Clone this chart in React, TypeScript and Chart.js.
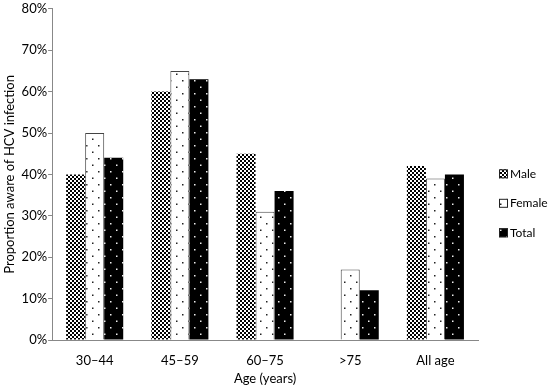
import React, { useEffect, useRef } from "react";
import { Chart, registerables } from "chart.js";

Chart.register(...registerables);

const categories = ["30–44", "45–59", "60–75", ">75", "All age"];
const maleValues = [40, 60, 45, null, 42];
const femaleValues = [50, 65, 31, 17, 39];
const totalValues = [44, 63, 36, 12, 40];
const seriesNames = ["Male", "Female", "Total"];

function makePattern(kind: string): CanvasPattern | string {
  const c = document.createElement("canvas");
  const ctx = c.getContext("2d");
  if (!ctx) return "#000";
  if (kind === "check") {
    c.width = 4;
    c.height = 4;
    ctx.fillStyle = "#fff";
    ctx.fillRect(0, 0, 4, 4);
    ctx.fillStyle = "#000";
    ctx.fillRect(0, 0, 2, 2);
    ctx.fillRect(2, 2, 2, 2);
  } else if (kind === "dotsLight") {
    c.width = 12;
    c.height = 13;
    ctx.fillStyle = "#fff";
    ctx.fillRect(0, 0, 12, 13);
    ctx.fillStyle = "#222";
    ctx.fillRect(2, 2, 1.5, 1.5);
    ctx.fillRect(8, 8.5, 1.5, 1.5);
  } else {
    c.width = 12;
    c.height = 13;
    ctx.fillStyle = "#000";
    ctx.fillRect(0, 0, 12, 13);
    ctx.fillStyle = "#eee";
    ctx.fillRect(2, 2, 1.5, 1.5);
    ctx.fillRect(8, 8.5, 1.5, 1.5);
  }
  return ctx.createPattern(c, "repeat") as CanvasPattern;
}

const font = "Lato, 'Open Sans', sans-serif";

const sideLegend = {
  id: "sideLegend",
  afterDraw(chart: any) {
    const { ctx, chartArea } = chart;
    const x = chartArea.right + 21;
    const yStart = chartArea.top + 165;
    const step = 29.5;
    ctx.save();
    ctx.font = `12px ${font}`;
    ctx.textBaseline = "middle";
    ctx.textAlign = "left";
    chart.data.datasets.forEach((ds: any, i: number) => {
      const y = yStart + i * step;
      ctx.fillStyle = ds.backgroundColor;
      ctx.fillRect(x, y - 4.5, 9, 9);
      ctx.strokeStyle = "#222";
      ctx.lineWidth = 1;
      ctx.strokeRect(x + 0.5, y - 4, 8, 8);
      ctx.fillStyle = "#000";
      ctx.fillText(ds.label, x + 11, y);
    });
    ctx.restore();
  },
};

export default function App() {
  const ref = useRef<HTMLCanvasElement | null>(null);

  useEffect(() => {
    document.body.style.margin = "0";
    const canvas = ref.current;
    if (!canvas) return;
    const chart = new Chart(canvas, {
      type: "bar",
      data: {
        labels: categories,
        datasets: [
          {
            label: seriesNames[0],
            data: maleValues,
            backgroundColor: makePattern("check"),
            borderColor: "#333",
            borderWidth: 0,
          },
          {
            label: seriesNames[1],
            data: femaleValues,
            backgroundColor: makePattern("dotsLight"),
            borderColor: "#444",
            borderWidth: 1,
          },
          {
            label: seriesNames[2],
            data: totalValues,
            backgroundColor: makePattern("dotsDark"),
            borderColor: "#000",
            borderWidth: 0,
          },
        ],
      },
      options: {
        animation: false,
        responsive: false,
        maintainAspectRatio: false,
        layout: { padding: { top: 1, right: 72, bottom: 0, left: 2 } },
        datasets: {
          bar: { categoryPercentage: 0.67, barPercentage: 1 },
        },
        plugins: {
          tooltip: { enabled: false },
          legend: { display: false },
        },
        scales: {
          x: {
            afterFit: (scale: any) => {
              scale.height = 47;
            },
            grid: { display: false, drawTicks: false, tickLength: 0 },
            border: { display: true, color: "#888", width: 1 },
            ticks: { color: "#000", font: { family: font, size: 13 }, padding: 13 },
            title: {
              display: true,
              text: "Age (years)",
              color: "#000",
              font: { family: font, size: 13 },
              padding: { top: 0, bottom: 0 },
            },
          },
          y: {
            min: 0,
            max: 80,
            grid: { display: true, drawOnChartArea: false, drawTicks: true, tickLength: 4, color: "#888" },
            border: { display: true, color: "#888", width: 1 },
            ticks: {
              stepSize: 10,
              color: "#000",
              font: { family: font, size: 13 },
              padding: 1,
              callback: (v: any) => v + "%",
            },
            title: {
              display: true,
              text: "Proportion aware of HCV infection",
              color: "#000",
              font: { family: font, size: 13 },
              padding: { top: 0, bottom: 3 },
            },
          },
        },
      },
      plugins: [sideLegend],
    });
    return () => chart.destroy();
  }, []);

  return (
    <div style={{ width: 550, height: 387 }}>
      <canvas ref={ref} width={550} height={387} style={{ display: "block" }} />
    </div>
  );
}
